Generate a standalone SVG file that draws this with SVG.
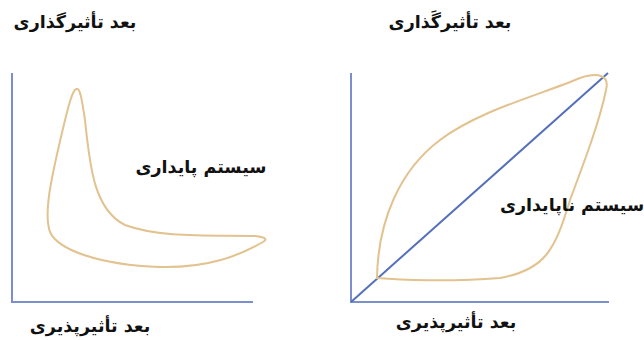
<svg xmlns="http://www.w3.org/2000/svg" width="644" height="340" viewBox="0 0 644 340">
<style>
.axis{fill:none;stroke:#7B8FCC;stroke-width:2}
.diag{fill:none;stroke:#5570BA;stroke-width:2}
.blob{fill:none;stroke:#E2C28F;stroke-width:2}
.lbl{font-family:"DejaVu Sans",sans-serif;font-weight:bold;font-size:17.5px;fill:#111;text-anchor:middle;direction:rtl}
</style>
<rect width="644" height="340" fill="#fff"/>
<g id="connectors">
<path class="axis" d="M12,73 V302 H253"/>
<path class="axis" d="M351,73 V302 H609"/>
<path class="diag" d="M351,302 L608,73"/>
</g>
<g id="stable-loop">
<path class="blob" d="M77,89 C72,87 65,120 58,150 C50,185 44,215 50,232 C58,250 100,265 160,267 C210,268 240,255 263,242 C268,239 265,237 255,236 C210,235 160,238 125,225 C95,210 90,170 85,120 C82,100 80,88 77,89 Z"/>
</g>
<g id="unstable-loop">
<path class="blob" d="M377,278 C378,220 400,170 440,140 C480,110 540,95 580,78 C598,72 610,75 606,90 C600,120 585,160 570,200 C555,250 545,270 500,278 C450,282 400,280 377,278 Z"/>
</g>
<g id="label-y-left"><text class="lbl" x="75" y="28">بعد تأثیرگذاری</text></g>
<g id="label-y-right"><text class="lbl" x="450" y="28">بعد تأثیرگَذاری</text></g>
<g id="label-stable"><text class="lbl" x="201" y="173">سیستم پایداری</text></g>
<g id="label-unstable"><text class="lbl" x="572" y="211">سیستم ناپایداری</text></g>
<g id="label-x-left"><text class="lbl" x="90" y="332">بعد تأثیرپذیری</text></g>
<g id="label-x-right"><text class="lbl" x="456" y="328">بعد تأثیرپذیری</text></g>
</svg>
